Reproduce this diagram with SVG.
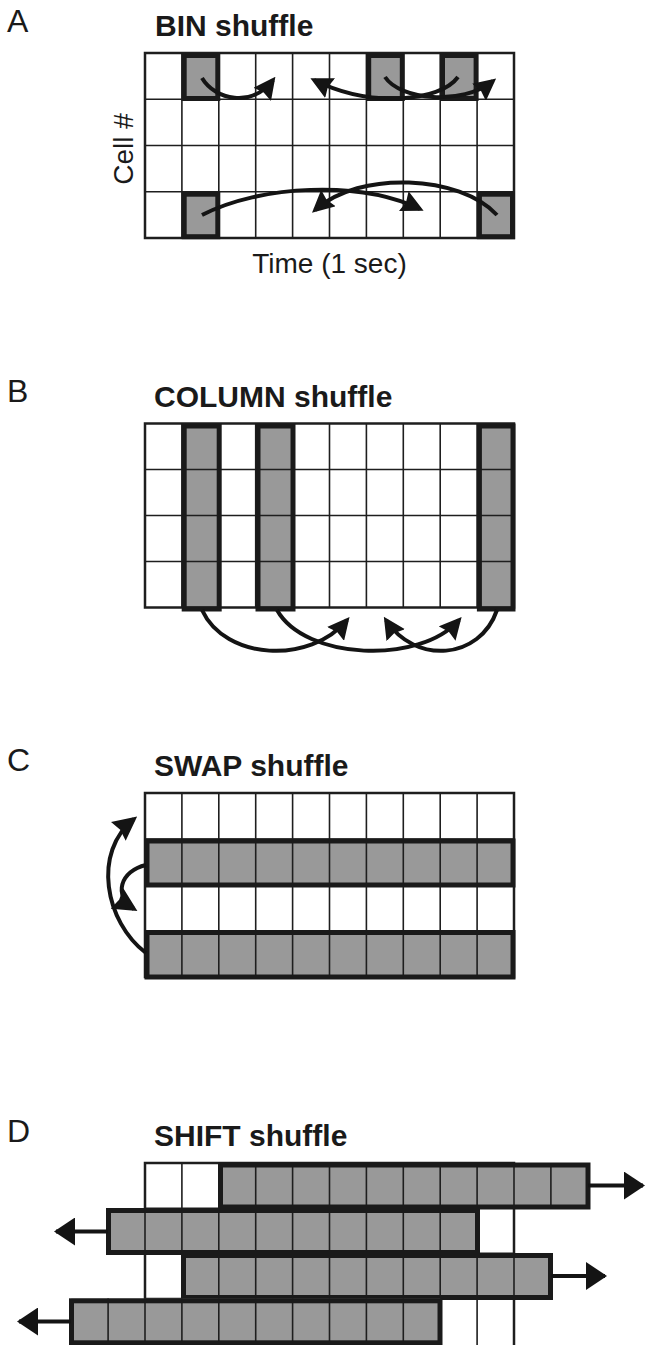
<svg xmlns="http://www.w3.org/2000/svg" width="648" height="1345" viewBox="0 0 648 1345">
  <style>
    .lbl { font-family: "Liberation Sans", Arial, Helvetica, sans-serif; font-size: 28px; fill: #1a1a1a; }
    .pl { font-family: "Liberation Sans", Arial, Helvetica, sans-serif; font-size: 32px; fill: #1a1a1a; }
    .ttl { font-family: "Liberation Sans", Arial, Helvetica, sans-serif; font-size: 30px; font-weight: bold; fill: #1a1a1a; }
    .cell { fill: none; stroke: #1e1e1e; stroke-width: 2.5; }
    .thin { fill: none; stroke: #1e1e1e; stroke-width: 1.6; }
    .shade { fill: #999999; stroke: none; }
    .frame { fill: none; stroke: #1a1a1a; stroke-width: 5; }
    .arc { fill: none; stroke: #141414; stroke-width: 4; }
  </style>
  <defs>
    <marker id="ah" markerUnits="userSpaceOnUse" viewBox="0 -11 22 22" markerWidth="22" markerHeight="22" refX="18" refY="0" orient="auto">
      <path d="M0,-11 L22,0 L0,11 L2.5,0 z" fill="#141414"/>
    </marker>
    <marker id="ahc" markerUnits="userSpaceOnUse" viewBox="0 -12 24 24" markerWidth="24" markerHeight="24" refX="20" refY="0" orient="auto">
      <path d="M0,-12 L24,0 L0,12 L2.5,0 z" fill="#141414"/>
    </marker>
    <marker id="ahd" markerUnits="userSpaceOnUse" viewBox="0 -14 21 28" markerWidth="21" markerHeight="28" refX="19" refY="0" orient="auto">
      <path d="M0,-14 L21,0 L0,14 z" fill="#141414"/>
    </marker>
  </defs>

  <rect width="648" height="1345" fill="#ffffff"/>

  <!-- Panel A: BIN shuffle -->
  <g id="panel-a">
    <text class="pl" x="7" y="32">A</text>
    <text class="ttl" x="155" y="36">BIN shuffle</text>
    <text class="lbl" transform="translate(133,149) rotate(-90)" text-anchor="middle">Cell #</text>
    <text class="lbl" x="329.5" y="273" text-anchor="middle">Time (1 sec)</text>
    <g id="a-grid">
      <rect class="shade" x="181.9" y="53" width="36.9" height="46.25"/>
      <rect class="shade" x="366.4" y="53" width="36.9" height="46.25"/>
      <rect class="shade" x="440.2" y="53" width="36.9" height="46.25"/>
      <rect class="shade" x="181.9" y="191.75" width="36.9" height="46.25"/>
      <rect class="shade" x="477.1" y="191.75" width="36.9" height="46.25"/>
      <path class="thin" d="M181.9,53V238M218.8,53V238M255.7,53V238M292.6,53V238M329.5,53V238M366.4,53V238M403.3,53V238M440.2,53V238M477.1,53V238M145,99.25H514M145,145.5H514M145,191.75H514"/>
      <rect class="cell" x="145" y="53" width="369" height="185"/>
    </g>
    <g id="a-bins">
      <rect class="frame" x="184.2" y="55.5" width="33.6" height="43"/>
      <rect class="frame" x="368.7" y="55.5" width="33.6" height="43"/>
      <rect class="frame" x="442.5" y="55.5" width="33.6" height="43"/>
      <rect class="frame" x="184.2" y="194.2" width="33.6" height="42.5"/>
      <rect class="frame" x="479.4" y="194.2" width="33.1" height="42.5"/>
    </g>
  </g>

  <!-- Panel B: COLUMN shuffle -->
  <g id="panel-b">
    <text class="pl" x="7" y="402">B</text>
    <text class="ttl" x="154" y="407">COLUMN shuffle</text>
    <g id="b-grid">
      <rect class="shade" x="181.9" y="423.5" width="36.9" height="184"/>
      <rect class="shade" x="255.7" y="423.5" width="36.9" height="184"/>
      <rect class="shade" x="477.1" y="423.5" width="36.9" height="184"/>
      <path class="thin" d="M181.9,423.5V607.5M218.8,423.5V607.5M255.7,423.5V607.5M292.6,423.5V607.5M329.5,423.5V607.5M366.4,423.5V607.5M403.3,423.5V607.5M440.2,423.5V607.5M477.1,423.5V607.5M145,469.5H514M145,515.5H514M145,561.5H514"/>
      <rect class="cell" x="145" y="423.5" width="369" height="184"/>
    </g>
    <g id="b-columns">
      <rect class="frame" x="184.2" y="426" width="35" height="183"/>
      <rect class="frame" x="258" y="426" width="35" height="183"/>
      <rect class="frame" x="479.4" y="426" width="33.6" height="183"/>
    </g>
  </g>

  <!-- Panel C: SWAP shuffle -->
  <g id="panel-c">
    <text class="pl" x="7" y="771">C</text>
    <text class="ttl" x="154" y="776">SWAP shuffle</text>
    <g id="c-grid">
      <rect class="shade" x="145" y="839" width="369" height="46"/>
      <rect class="shade" x="145" y="931" width="369" height="46"/>
      <path class="thin" d="M181.9,793V977M218.8,793V977M255.7,793V977M292.6,793V977M329.5,793V977M366.4,793V977M403.3,793V977M440.2,793V977M477.1,793V977M145,839H514M145,885H514M145,931H514"/>
      <rect class="cell" x="145" y="793" width="369" height="184"/>
    </g>
    <g id="c-rows">
      <rect class="frame" x="147" y="841" width="366" height="44"/>
      <rect class="frame" x="147" y="932.5" width="366" height="44.5"/>
    </g>
  </g>

  <!-- Panel D: SHIFT shuffle -->
  <g id="panel-d">
    <text class="pl" x="7" y="1142">D</text>
    <text class="ttl" x="154" y="1146">SHIFT shuffle</text>
    <g id="d-grid">
      <path class="thin" d="M181.9,1163V1345M218.8,1163V1345M477.1,1163V1345M440.2,1163V1345M145,1208.2H514M145,1253.4H514M145,1298.6H514"/>
      <rect class="cell" x="145" y="1163" width="369" height="185"/>
    </g>
    <g id="d-row1">
      <rect class="shade" x="218.8" y="1163" width="369" height="45.2"/>
      <path class="thin" d="M255.7,1163v45.2M292.6,1163v45.2M329.5,1163v45.2M366.4,1163v45.2M403.3,1163v45.2M440.2,1163v45.2M477.1,1163v45.2M514,1163v45.2M550.9,1163v45.2"/>
      <rect class="frame" x="220.5" y="1165" width="367.5" height="42"/>
    </g>
    <g id="d-row2">
      <rect class="shade" x="108.1" y="1208.2" width="369" height="45.2"/>
      <path class="thin" d="M145,1208.2v45.2M181.9,1208.2v45.2M218.8,1208.2v45.2M255.7,1208.2v45.2M292.6,1208.2v45.2M329.5,1208.2v45.2M366.4,1208.2v45.2M403.3,1208.2v45.2M440.2,1208.2v45.2"/>
      <rect class="frame" x="108.5" y="1210.5" width="369" height="42"/>
    </g>
    <g id="d-row3">
      <rect class="shade" x="181.9" y="1253.4" width="369" height="45.2"/>
      <path class="thin" d="M218.8,1253.4v45.2M255.7,1253.4v45.2M292.6,1253.4v45.2M329.5,1253.4v45.2M366.4,1253.4v45.2M403.3,1253.4v45.2M440.2,1253.4v45.2M477.1,1253.4v45.2M514,1253.4v45.2"/>
      <rect class="frame" x="183.5" y="1255.5" width="367" height="42"/>
    </g>
    <g id="d-row4">
      <rect class="shade" x="71.2" y="1298.6" width="369" height="45.2"/>
      <path class="thin" d="M108.1,1298.6v45.2M145,1298.6v45.2M181.9,1298.6v45.2M218.8,1298.6v45.2M255.7,1298.6v45.2M292.6,1298.6v45.2M329.5,1298.6v45.2M366.4,1298.6v45.2M403.3,1298.6v45.2"/>
      <rect class="frame" x="71.5" y="1300.8" width="368.5" height="42"/>
    </g>
  </g>

  <!-- Connectors -->
  <g id="connectors">
    <!-- A: bins moved along the time axis -->
    <path class="arc" marker-end="url(#ah)" d="M202,78 C215,100 252,108 273,80"/>
    <path class="arc" marker-end="url(#ah)" d="M458,77 C440,102 370,108 314,80"/>
    <path class="arc" marker-end="url(#ah)" d="M385,77 C400,100 462,106 493,81"/>
    <path class="arc" marker-end="url(#ah)" d="M202,215 C260,185 360,180 420,209"/>
    <path class="arc" marker-end="url(#ah)" d="M497,215 C460,175 360,170 315,210"/>
    <!-- B: columns moved -->
    <path class="arc" marker-end="url(#ah)" d="M202,610 C225,660 310,665 347,620"/>
    <path class="arc" marker-end="url(#ah)" d="M277,610 C305,660 420,665 459,620"/>
    <path class="arc" marker-end="url(#ah)" d="M497,610 C480,660 415,665 386,620"/>
    <!-- C: rows swapped -->
    <path class="arc" marker-end="url(#ahc)" d="M146,953 C105,922 92,852 134,819"/>
    <path class="arc" marker-end="url(#ahc)" d="M146,865 C120,871 113,896 134,909"/>
    <!-- D: rows shifted in time -->
    <line class="arc" marker-end="url(#ahd)" x1="588" y1="1185.6" x2="643" y2="1185.6"/>
    <line class="arc" marker-end="url(#ahd)" x1="108" y1="1231.5" x2="56" y2="1231.5"/>
    <line class="arc" marker-end="url(#ahd)" x1="551" y1="1276" x2="605" y2="1276"/>
    <line class="arc" marker-end="url(#ahd)" x1="71" y1="1321.5" x2="19" y2="1321.5"/>
  </g>
</svg>
